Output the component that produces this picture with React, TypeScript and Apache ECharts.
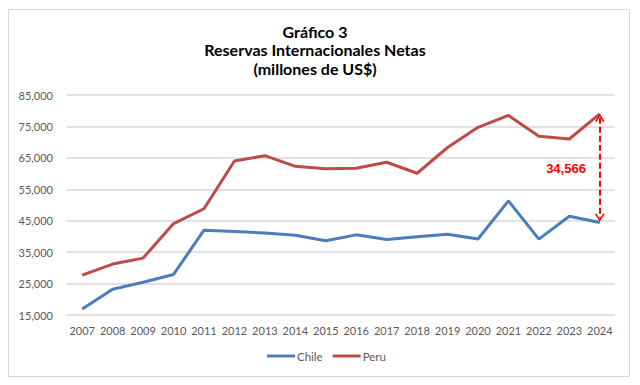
import React, { useEffect, useRef } from "react";
import * as echarts from "echarts";

const years = ["2007","2008","2009","2010","2011","2012","2013","2014","2015","2016","2017","2018","2019","2020","2021","2022","2023","2024"];
const chile = [16900, 23200, 25400, 27900, 42000, 41600, 41100, 40400, 38600, 40500, 39000, 39900, 40700, 39200, 51300, 39150, 46400, 44424];
const peru = [27700, 31200, 33100, 44100, 48800, 64000, 65700, 62300, 61500, 61700, 63600, 60100, 68300, 74700, 78500, 71900, 71000, 78990];
const yTicks = { min: 15000, max: 85000, interval: 10000 };
const titleLines = ["Gráfico 3", "Reservas Internacionales Netas", "(millones de US$)"];

const chevron = "path://M0,10 L5,0 L10,10 L8.2,10 L5,3.6 L1.8,10 Z";

export default function App() {
  const ref = useRef<HTMLDivElement>(null);
  useEffect(() => {
    if (!ref.current) return;
    const chart = echarts.init(ref.current, null, { renderer: "svg" });
    const last = years.length - 1;
    const diff = peru[last] - chile[last];
    const font = "Lato, 'Open Sans', sans-serif";
    chart.setOption({
      animation: false,
      backgroundColor: "#ffffff",
      title: {
        text: titleLines.join("\n"),
        left: 310,
        textAlign: "center",
        top: 17,
        textStyle: { fontFamily: font, fontSize: 16, fontWeight: "bold", color: "#000000", lineHeight: 18.5 },
      },
      grid: { left: 67, right: 25, top: 95, bottom: 70, containLabel: false },
      legend: {
        bottom: 18,
        left: 262,
        icon: "rect",
        itemWidth: 28,
        itemHeight: 3,
        itemGap: 10,
        textStyle: { color: "#595959", fontSize: 11.5, fontWeight: "normal", fontFamily: font, padding: [0, 0, 0, -3] },
        data: ["Chile", "Peru"],
      },
      xAxis: {
        type: "category",
        data: years,
        boundaryGap: true,
        axisLine: { show: false },
        axisTick: { show: false },
        axisLabel: { color: "#595959", fontSize: 11, fontFamily: font, margin: 10, interval: 0 },
      },
      yAxis: {
        type: "value",
        min: yTicks.min,
        max: yTicks.max,
        interval: yTicks.interval,
        axisLine: { show: false },
        axisTick: { show: false },
        splitLine: { lineStyle: { color: "#d9d9d9", width: 1.5 } },
        axisLabel: {
          color: "#595959",
          fontSize: 11,
          fontFamily: font,
          margin: 14,
          formatter: (v: number) => v.toLocaleString("en-US"),
        },
      },
      series: [
        {
          name: "Chile",
          type: "line",
          data: chile,
          symbol: "none",
          lineStyle: { color: "#4a7ebb", width: 3 },
          itemStyle: { color: "#4a7ebb" },
        },
        {
          name: "Peru",
          type: "line",
          data: peru,
          symbol: "none",
          lineStyle: { color: "#be4b48", width: 3 },
          itemStyle: { color: "#be4b48" },
          markLine: {
            silent: true,
            symbol: [chevron, chevron],
            symbolSize: [10, 8],
            label: { show: false },
            itemStyle: { color: "#ff0000" },
            lineStyle: { color: "#ff0000", type: [6, 3], width: 2 },
            data: [
              [
                { coord: [last, peru[last] - 1200] },
                { coord: [last, chile[last] + 1500] },
              ],
            ],
          },
        },
      ],
      graphic: [
        {
          type: "rect",
          shape: { x: 8.5, y: 9.5, width: 621, height: 367 },
          style: { fill: "none", stroke: "#d9d9d9", lineWidth: 1 },
          silent: true,
        },
        {
          type: "text",
          x: 566,
          y: 168,
          style: {
            text: diff.toLocaleString("en-US"),
            fill: "#ff0000",
            font: "bold 13px 'Liberation Sans', Arial, sans-serif",
            align: "center",
            verticalAlign: "middle",
          },
        },
      ],
    });
    return () => chart.dispose();
  }, []);
  return (
    <div
      ref={ref}
      style={{ position: "absolute", left: 0, top: 0, width: 640, height: 385 }}
    />
  );
}
